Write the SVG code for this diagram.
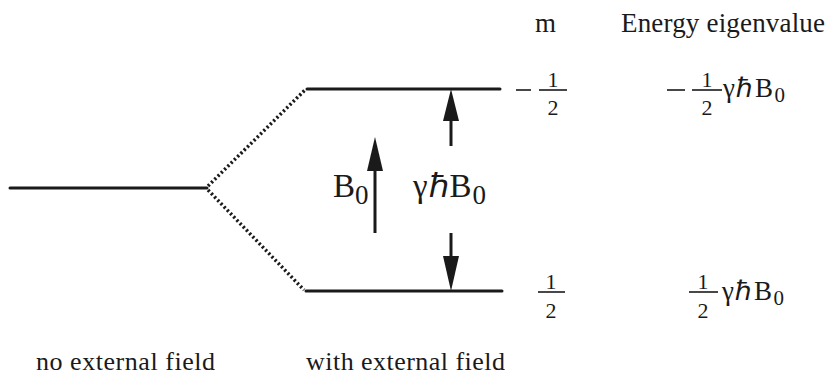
<svg xmlns="http://www.w3.org/2000/svg" width="833" height="378" viewBox="0 0 833 378">
<style>
text{font-family:"Liberation Serif","Times New Roman",serif;fill:#1a1a1a}
.lvl{stroke:#1a1a1a;stroke-width:3;fill:none;stroke-linecap:round}
.dot{stroke:#1a1a1a;stroke-width:3.5;fill:none;stroke-dasharray:2.2 2.4}
.shaft{stroke:#1a1a1a;stroke-width:3;fill:none}
.bar{stroke:#1a1a1a;stroke-width:1.6}
.head{fill:#1a1a1a}
.t27{font-size:27px}
.cap{font-size:26px}
.frac{font-size:22px}
.eig{font-size:27px;letter-spacing:1.5px}
.big{font-size:33px}
</style>
<g id="level-none"><line class="lvl" x1="10" y1="188" x2="207" y2="188"/></g>
<g id="level-upper"><line class="lvl" x1="307" y1="89" x2="500" y2="89"/></g>
<g id="level-lower"><line class="lvl" x1="306" y1="291" x2="502" y2="291"/></g>
<g id="connectors">
<line class="dot" x1="208" y1="186" x2="306" y2="89"/>
<line class="dot" x1="208" y1="190" x2="304" y2="290"/>
<line class="shaft" x1="375" y1="233" x2="375" y2="165"/>
<polygon class="head" points="375,137 367,171 383,171"/>
<line class="shaft" x1="451" y1="146" x2="451" y2="115"/>
<polygon class="head" points="451,89 443,121 459,121"/>
<line class="shaft" x1="451" y1="233" x2="451" y2="260"/>
<polygon class="head" points="451,291 443,256 459,256"/>
</g>
<g id="label-B0"><text class="big" x="333" y="197">B<tspan font-size="27" dy="7">0</tspan></text></g>
<g id="label-gap"><text class="big" x="413" y="197" letter-spacing="1">γℏB<tspan font-size="27" dy="7">0</tspan></text></g>
<g id="header-m"><text class="t27" x="535" y="32">m</text></g>
<g id="header-energy"><text class="t27" x="621" y="32" textLength="204">Energy eigenvalue</text></g>
<g id="m-upper">
<line class="bar" x1="516" y1="90" x2="531" y2="90"/>
<line class="bar" x1="539" y1="90" x2="567" y2="90"/>
<text class="frac" x="553" y="87" text-anchor="middle">1</text>
<text class="frac" x="553" y="115" text-anchor="middle">2</text>
</g>
<g id="m-lower">
<line class="bar" x1="538" y1="292" x2="565" y2="292"/>
<text class="frac" x="551" y="289" text-anchor="middle">1</text>
<text class="frac" x="551" y="318" text-anchor="middle">2</text>
</g>
<g id="e-upper">
<line class="bar" x1="667" y1="90" x2="685" y2="90"/>
<line class="bar" x1="692" y1="90" x2="722" y2="90"/>
<text class="frac" x="707" y="87" text-anchor="middle">1</text>
<text class="frac" x="707" y="115" text-anchor="middle">2</text>
<text class="eig" x="723" y="97">γℏB<tspan font-size="21" dy="5">0</tspan></text>
</g>
<g id="e-lower">
<line class="bar" x1="689" y1="292" x2="718" y2="292"/>
<text class="frac" x="703" y="289" text-anchor="middle">1</text>
<text class="frac" x="703" y="318" text-anchor="middle">2</text>
<text class="eig" x="722" y="300">γℏB<tspan font-size="21" dy="5">0</tspan></text>
</g>
<g id="caption-no"><text class="cap" x="36" y="370" textLength="179">no external field</text></g>
<g id="caption-with"><text class="cap" x="306" y="370" textLength="199">with external field</text></g>
</svg>
